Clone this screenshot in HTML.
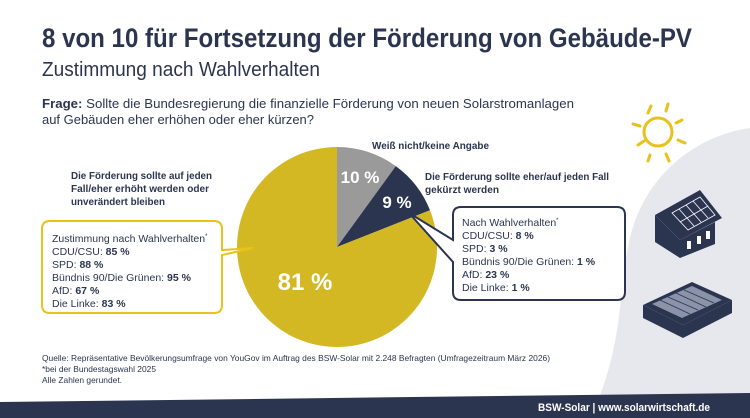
<!DOCTYPE html>
<html><head><meta charset="utf-8"><style>
html,body{margin:0;padding:0;background:#fff;width:750px;height:418px;overflow:hidden}
svg{display:block}
text{font-family:"Liberation Sans",sans-serif}
</style></head><body>
<svg width="750" height="418" viewBox="0 0 750 418" xmlns="http://www.w3.org/2000/svg">
<!-- gray blob -->
<path d="M750 128 C700 135 650 170 632 230 C618 280 625 330 600 395 L750 395 Z" fill="#e6e8ee"/>
<!-- footer -->
<path d="M0 402 L750 393 L750 418 L0 418 Z" fill="#2c3550"/>
<text x="710" y="411" font-size="11" font-weight="bold" fill="#fff" text-anchor="end" textLength="172" lengthAdjust="spacingAndGlyphs">BSW-Solar | www.solarwirtschaft.de</text>

<!-- title -->
<text x="42" y="47" font-size="27" font-weight="bold" fill="#2c3550" textLength="650" lengthAdjust="spacingAndGlyphs">8 von 10 für Fortsetzung der Förderung von Gebäude-PV</text>
<text x="42" y="76" font-size="20" fill="#2c3550" textLength="278" lengthAdjust="spacingAndGlyphs">Zustimmung nach Wahlverhalten</text>
<text x="42" y="108" font-size="13" fill="#2c3550" textLength="532" lengthAdjust="spacingAndGlyphs"><tspan font-weight="bold">Frage:</tspan> Sollte die Bundesregierung die finanzielle Förderung von neuen Solarstromanlagen</text>
<text x="42" y="124" font-size="13" fill="#2c3550" textLength="272" lengthAdjust="spacingAndGlyphs">auf Gebäuden eher erhöhen oder eher kürzen?</text>

<!-- sun -->
<g stroke="#e8c21c" stroke-width="3" fill="none" stroke-linecap="round">
<circle cx="658" cy="132" r="14"/>
<line x1="651" y1="106" x2="648" y2="113"/><line x1="668" y1="104" x2="666" y2="111"/>
<line x1="633" y1="124" x2="640" y2="126"/><line x1="676" y1="123" x2="682" y2="120"/>
<line x1="638" y1="145" x2="644" y2="141"/><line x1="678" y1="140" x2="685" y2="143"/>
<line x1="650" y1="155" x2="648" y2="161"/><line x1="666" y1="154" x2="669" y2="161"/>
</g>
<!-- house -->
<g>
<polygon points="655,215 700,190 722,218 680,240" fill="#2c3550"/>
<polygon points="655,215 680,240 680,258 655,242" fill="#2c3550"/>
<polygon points="680,240 715,222 715,244 680,258" fill="#2c3550"/>
<g stroke="#fff" stroke-width="0.8" fill="none"><polygon points="672,213 700,197 715,215 688,230"/><line x1="679" y1="209" x2="694" y2="226"/><line x1="686" y1="205" x2="701" y2="222"/><line x1="693" y1="201" x2="708" y2="218"/><line x1="680" y1="222" x2="708" y2="206"/></g>
<rect x="687" y="241" width="4" height="8" fill="#fff"/><rect x="697" y="236" width="4" height="8" fill="#fff"/><rect x="706" y="231" width="4" height="8" fill="#fff"/>
</g>
<!-- flat building -->
<g>
<polygon points="643,305 692,282 732,300 683,325" fill="#2c3550"/>
<polygon points="643,305 683,325 683,338 643,318" fill="#2c3550"/>
<polygon points="683,325 732,300 732,313 683,338" fill="#2c3550"/>
<polygon points="652,304 692,286 722,300 682,318" fill="#8a93a8"/>
<g stroke="#2c3550" stroke-width="0.8"><line x1="660" y1="300" x2="690" y2="314"/><line x1="668" y1="297" x2="698" y2="310"/><line x1="676" y1="293" x2="706" y2="307"/><line x1="684" y1="290" x2="714" y2="303"/></g>
</g>

<!-- pie -->
<path d="M337 247 L337 147 A100 100 0 0 1 395.8 166.1 Z" fill="#9a9a9a"/>
<path d="M337 247 L395.8 166.1 A100 100 0 0 1 430 210.2 Z" fill="#2c3550"/>
<path d="M337 247 L430 210.2 A100 100 0 1 1 337 147 Z" fill="#d3b823"/>
<text x="360" y="183" font-size="17" font-weight="bold" fill="#fff" text-anchor="middle">10 %</text>
<text x="397" y="208" font-size="17" font-weight="bold" fill="#fff" text-anchor="middle">9 %</text>
<text x="305" y="290" font-size="24" font-weight="bold" fill="#fff" text-anchor="middle">81 %</text>

<!-- labels -->
<g font-size="10.5" font-weight="bold" fill="#2c3550">
<text x="71" y="179" textLength="141" lengthAdjust="spacingAndGlyphs">Die Förderung sollte auf jeden</text>
<text x="71" y="192" textLength="138" lengthAdjust="spacingAndGlyphs">Fall/eher erhöht werden oder</text>
<text x="71" y="205" textLength="94" lengthAdjust="spacingAndGlyphs">unverändert bleiben</text>
<text x="372" y="149" textLength="117" lengthAdjust="spacingAndGlyphs">Weiß nicht/keine Angabe</text>
<text x="425" y="180" textLength="184" lengthAdjust="spacingAndGlyphs">Die Förderung sollte eher/auf jeden Fall</text>
<text x="425" y="193" textLength="74" lengthAdjust="spacingAndGlyphs">gekürzt werden</text>
</g>

<!-- left callout -->
<path d="M50 221 L214 221 Q222 221 222 229 L222 250 L253 248 L222 255 L222 305 Q222 313 214 313 L50 313 Q42 313 42 305 L42 229 Q42 221 50 221 Z" fill="#fff" stroke="#e8c21c" stroke-width="2"/>
<g font-size="10.5" fill="#2c3550">
<text x="52" y="242">Zustimmung nach Wahlverhalten<tspan font-size="6" dy="-4">*</tspan></text>
<text x="52" y="255">CDU/CSU: <tspan font-weight="bold">85 %</tspan></text>
<text x="52" y="268">SPD: <tspan font-weight="bold">88 %</tspan></text>
<text x="52" y="281">Bündnis 90/Die Grünen: <tspan font-weight="bold">95 %</tspan></text>
<text x="52" y="294">AfD: <tspan font-weight="bold">67 %</tspan></text>
<text x="52" y="307">Die Linke: <tspan font-weight="bold">83 %</tspan></text>
</g>

<!-- right callout -->
<path d="M461 207 L617 207 Q625 207 625 215 L625 292 Q625 300 617 300 L461 300 Q453 300 453 292 L453 262 L409 213 L453 240 L453 215 Q453 207 461 207 Z" fill="#fff" stroke="#2c3550" stroke-width="2"/>
<g font-size="10.5" fill="#2c3550">
<text x="462" y="226">Nach Wahlverhalten<tspan font-size="6" dy="-4">*</tspan></text>
<text x="462" y="239">CDU/CSU: <tspan font-weight="bold">8 %</tspan></text>
<text x="462" y="252">SPD: <tspan font-weight="bold">3 %</tspan></text>
<text x="462" y="265">Bündnis 90/Die Grünen: <tspan font-weight="bold">1 %</tspan></text>
<text x="462" y="278">AfD: <tspan font-weight="bold">23 %</tspan></text>
<text x="462" y="291">Die Linke: <tspan font-weight="bold">1 %</tspan></text>
</g>

<!-- source -->
<g font-size="8.5" fill="#2c3550">
<text x="42" y="361" textLength="508" lengthAdjust="spacingAndGlyphs">Quelle: Repräsentative Bevölkerungsumfrage von YouGov im Auftrag des BSW-Solar mit 2.248 Befragten (Umfragezeitraum März 2026)</text>
<text x="42" y="372" textLength="114" lengthAdjust="spacingAndGlyphs">*bei der Bundestagswahl 2025</text>
<text x="42" y="383" textLength="80" lengthAdjust="spacingAndGlyphs">Alle Zahlen gerundet.</text>
</g>
</svg>
</body></html>
